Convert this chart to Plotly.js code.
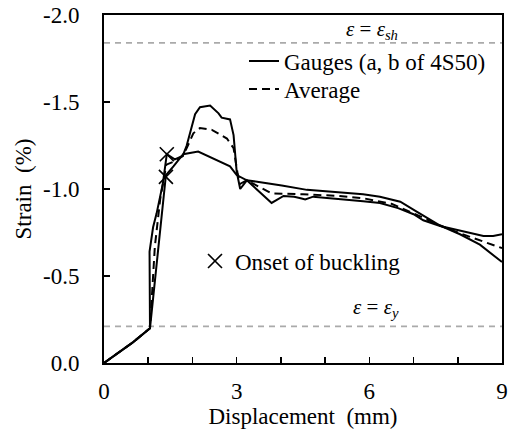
<!DOCTYPE html>
<html>
<head>
<meta charset="utf-8">
<script src="https://cdn.plot.ly/plotly-3.0.1.min.js"></script>
<style>html,body{margin:0;padding:0;background:#fff;}#chart{width:513px;height:436px;}</style>
</head>
<body>
<div id="chart"></div>
<script>
// Gauge a (upper peak)
const gaugeA_x = [0, 0.32, 0.66, 1.04, 1.03, 1.11, 1.19, 1.33, 1.42, 1.6, 1.78, 1.87, 2.06, 2.17, 2.40, 2.59, 2.66, 2.85, 2.93, 3.0, 3.08, 3.23, 3.5, 3.79, 4.06, 4.3, 4.47, 4.55, 4.73, 5.3, 5.86, 6.24, 6.65, 7.0, 7.22, 7.6, 7.98, 8.28, 8.58, 8.8, 9.0];
const gaugeA_y = [0, -0.06, -0.12, -0.20, -0.64, -0.78, -0.86, -1.03, -1.20, -1.17, -1.19, -1.25, -1.43, -1.47, -1.48, -1.435, -1.41, -1.40, -1.31, -1.10, -1.00, -1.05, -0.99, -0.92, -0.96, -0.955, -0.945, -0.94, -0.956, -0.945, -0.93, -0.92, -0.89, -0.855, -0.82, -0.787, -0.765, -0.745, -0.73, -0.73, -0.74];
// Gauge b (lower peak)
const gaugeB_x = [0, 0.32, 0.66, 1.04, 1.40, 1.57, 1.72, 1.79, 2.13, 2.5, 2.85, 3.0, 3.23, 3.5, 3.79, 4.02, 4.59, 5.3, 5.86, 6.24, 6.70, 7.07, 7.6, 8.05, 8.5, 9.0];
const gaugeB_y = [0, -0.06, -0.12, -0.20, -1.08, -1.13, -1.18, -1.20, -1.215, -1.17, -1.13, -1.08, -1.05, -1.04, -1.03, -1.02, -0.995, -0.98, -0.97, -0.956, -0.927, -0.87, -0.79, -0.74, -0.68, -0.58];
// Average
const avg_x = [0, 0.32, 0.66, 1.04, 1.15, 1.27, 1.41, 1.6, 1.78, 1.87, 2.02, 2.17, 2.44, 2.78, 2.93, 3.02, 3.08, 3.23, 3.79, 4.5, 5.3, 5.9, 6.5, 7.0, 7.6, 8.0, 8.5, 9.0];
const avg_y = [0, -0.06, -0.12, -0.20, -0.67, -0.94, -1.14, -1.16, -1.19, -1.235, -1.32, -1.35, -1.34, -1.29, -1.235, -1.09, -1.03, -1.05, -0.975, -0.97, -0.96, -0.945, -0.915, -0.86, -0.79, -0.75, -0.705, -0.66];
// Onset of buckling
const buckle_x = [1.42, 1.40];
const buckle_y = [-1.20, -1.07];
// Reference strains
const epsY = -0.21;
const epsSh = -1.84;
// Ticks
const yTickVals = [0, -0.5, -1.0, -1.5, -2.0];
const yTickText = ["0.0", "-0.5", "-1.0", "-1.5", "-2.0"];
const xTickVals = [0, 3, 6, 9];
const xTickText = ["0", "3", "6", "9"];

const FONT = "Liberation Serif";
const FS = 23;

const traces = [
  {x: gaugeA_x, y: gaugeA_y, mode: 'lines', name: 'Gauges (a, b of 4S50)', line: {color: '#000', width: 2}, legend: 'legend'},
  {x: gaugeB_x, y: gaugeB_y, mode: 'lines', name: 'Gauge b', showlegend: false, line: {color: '#000', width: 2}},
  {x: avg_x, y: avg_y, mode: 'lines', name: 'Average', line: {color: '#000', width: 2, dash: '8px,5px'}, legend: 'legend3'},
  {x: buckle_x, y: buckle_y, mode: 'markers', name: 'Onset of buckling', legend: 'legend2',
   marker: {symbol: 'x-thin-open', size: 14, color: '#000', line: {color: '#000', width: 1.6}}}
];

const legendBase = {xanchor: 'left', yanchor: 'middle', bgcolor: 'rgba(0,0,0,0)', borderwidth: 0,
                    font: {family: FONT, size: FS, color: '#000'}};

const layout = {
  width: 513, height: 436,
  margin: {l: 104, r: 11, t: 15, b: 73},
  paper_bgcolor: '#fff', plot_bgcolor: '#fff',
  font: {family: FONT, size: FS, color: '#000'},
  showlegend: true,
  xaxis: {
    range: [0, 9], showgrid: false, zeroline: false,
    showline: true, linecolor: '#000', linewidth: 2, mirror: true,
    ticks: 'inside', ticklen: 6, tickwidth: 1.5, tickcolor: '#000',
    tickvals: xTickVals, ticktext: xTickText, ticklabelstandoff: 6,
    minor: {dtick: 1, ticks: 'inside', ticklen: 6, tickwidth: 1.5, tickcolor: '#000'},
    tickfont: {family: FONT, size: FS, color: '#000'},
    title: {text: 'Displacement  (mm)', font: {family: FONT, size: FS, color: '#000'}, standoff: 2}
  },
  yaxis: {
    range: [0, -2], showgrid: false, zeroline: false,
    showline: true, linecolor: '#000', linewidth: 2, mirror: true,
    ticks: 'inside', ticklen: 6, tickwidth: 1.5, tickcolor: '#000',
    tickvals: yTickVals, ticktext: yTickText, ticklabelstandoff: 18,
    tickfont: {family: FONT, size: FS, color: '#000'},
    title: {text: 'Strain  (%)', font: {family: FONT, size: FS, color: '#000'}, standoff: 5}
  },
  legend: Object.assign({x: (244 - 104) / 398, y: 1 - (61 - 15) / 348}, legendBase),
  legend3: Object.assign({x: (244 - 104) / 398, y: 1 - (89 - 15) / 348}, legendBase),
  legend2: Object.assign({x: (195 - 104) / 398, y: 1 - (261 - 15) / 348}, legendBase),
  shapes: [
    {type: 'line', xref: 'x', yref: 'y', x0: 0, x1: 9, y0: epsSh, y1: epsSh, line: {color: '#aaaaaa', width: 1.8, dash: '6px,5px'}, layer: 'below'},
    {type: 'line', xref: 'x', yref: 'y', x0: 0, x1: 9, y0: epsY, y1: epsY, line: {color: '#aaaaaa', width: 1.8, dash: '6px,5px'}, layer: 'below'}
  ],
  annotations: [
    {x: 6.06, y: epsSh, xref: 'x', yref: 'y', yanchor: 'bottom', yshift: -2, showarrow: false,
     text: '<i>ε</i> = <i>ε<sub>sh</sub></i>', font: {family: FONT, size: 21, color: '#000'}},
    {x: 6.15, y: epsY, xref: 'x', yref: 'y', yanchor: 'bottom', yshift: 3, showarrow: false,
     text: '<i>ε</i> = <i>ε<sub>y</sub></i>', font: {family: FONT, size: 21, color: '#000'}}
  ]
};

Plotly.newPlot('chart', traces, layout, {staticPlot: true, displayModeBar: false});
</script>
</body>
</html>
